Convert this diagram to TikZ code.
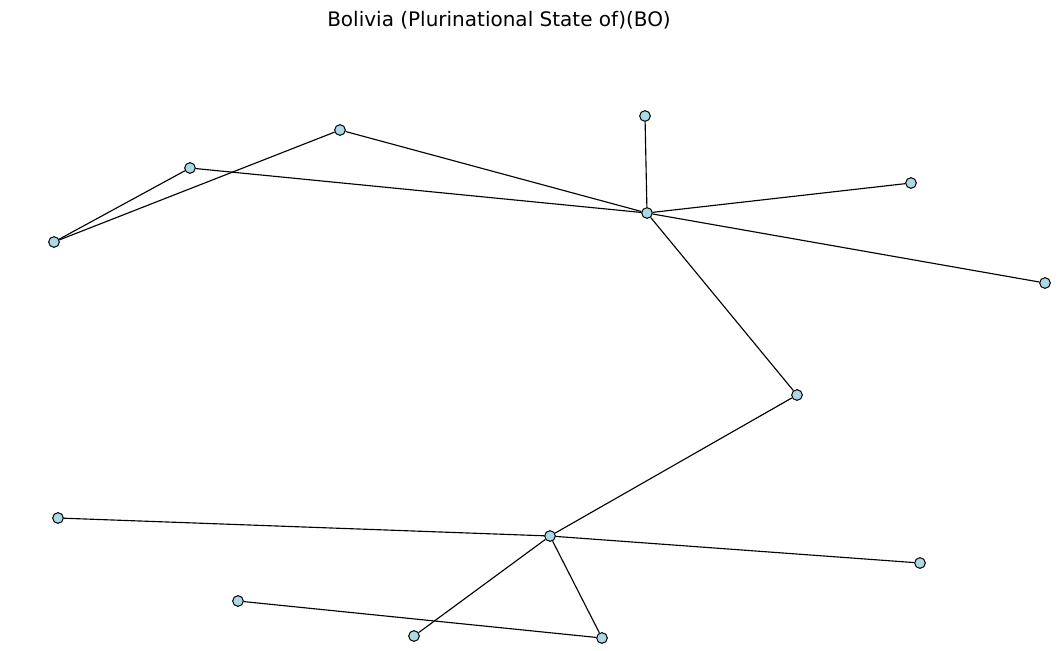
\documentclass[tikz,border=0pt]{standalone}
\usepackage{fontspec}
\setmainfont{DejaVu Sans}
\begin{document}
\begin{tikzpicture}[x=0.75pt,y=-0.75pt,
  vtx/.style={circle,draw=black,fill={rgb,255:red,173;green,216;blue,230},line width=0.75pt,minimum size=8pt,inner sep=0pt},
  edge/.style={draw=black,line width=0.85pt}]
\useasboundingbox (0,0) rectangle (1060,650);
\node[font=\fontsize{15pt}{18pt}\selectfont] (title) at (499,20) {Bolivia (Plurinational State of)(BO)};
\node[vtx] (A) at (340,130) {};
\node[vtx] (B) at (190,168) {};
\node[vtx] (C) at (54,242) {};
\node[vtx] (D) at (645,116) {};
\node[vtx] (E) at (647,213) {};
\node[vtx] (F) at (911,183) {};
\node[vtx] (G) at (1045,283) {};
\node[vtx] (H) at (797,395) {};
\node[vtx] (I) at (550,536) {};
\node[vtx] (J) at (58,518) {};
\node[vtx] (K) at (920,563) {};
\node[vtx] (L) at (238,601) {};
\node[vtx] (M) at (414,636) {};
\node[vtx] (N) at (602,638) {};
\draw[edge] (C) -- (B);
\draw[edge] (C) -- (A);
\draw[edge] (B) -- (E);
\draw[edge] (A) -- (E);
\draw[edge] (D) -- (E);
\draw[edge] (E) -- (F);
\draw[edge] (E) -- (G);
\draw[edge] (E) -- (H);
\draw[edge] (H) -- (I);
\draw[edge] (J) -- (I);
\draw[edge] (I) -- (K);
\draw[edge] (I) -- (M);
\draw[edge] (I) -- (N);
\draw[edge] (L) -- (N);
\end{tikzpicture}
\end{document}
